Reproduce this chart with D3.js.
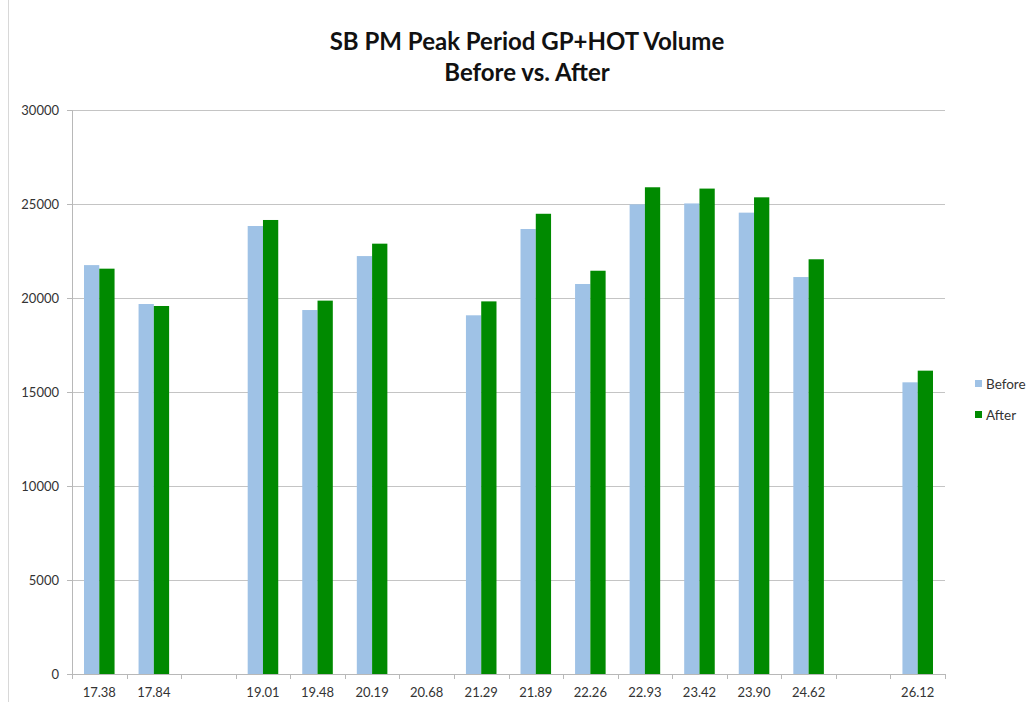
<!DOCTYPE html>
<html>
<head>
<meta charset="utf-8">
<script src="https://cdn.jsdelivr.net/npm/d3@7"></script>
<style>
  body { margin: 0; background: #fff; }
  text { font-family: Lato, "Open Sans", sans-serif; }
</style>
</head>
<body>
<div id="chart"></div>
<script>
(function () {

// slots along the x axis (empty string = unlabeled slot)
var categories = ["17.38", "17.84", "", "19.01", "19.48", "20.19", "20.68", "21.29",
                  "21.89", "22.26", "22.93", "23.42", "23.90", "24.62", " ", "26.12"];
var before = [21750, 19680, null, 23830, 19360, 22230, null, 19080,
              23670, 20745, 24980, 25030, 24540, 21115, null, 15515];
var after  = [21560, 19575, null, 24150, 19860, 22890, null, 19820,
              24480, 21450, 25890, 25820, 25355, 22060, null, 16135];
var seriesNames = ["Before", "After"];
var yTicks = [0, 5000, 10000, 15000, 20000, 25000, 30000];

var colors = {Before: "#9fc2e6", After: "#008a00"};

var margin = {top: 110, right: 86, bottom: 28, left: 72},
    width = 1031 - margin.left - margin.right,
    height = 702 - margin.top - margin.bottom;

var svg = d3.select("#chart").append("svg")
    .attr("width", 1031)
    .attr("height", 702);

// faint page border at the left
svg.append("line")
    .attr("x1", 8.5).attr("x2", 8.5)
    .attr("y1", 0).attr("y2", 702)
    .attr("stroke", "#d8d8d8");

var title = svg.append("text")
    .attr("x", 527)
    .attr("y", 50)
    .attr("text-anchor", "middle")
    .style("font-size", "24px")
    .style("font-weight", "bold")
    .style("fill", "#111");
title.append("tspan").attr("x", 527).text("SB PM Peak Period GP+HOT Volume");
title.append("tspan").attr("x", 527).attr("dy", 31).text("Before vs. After");

var chart = svg.append("g")
    .attr("transform", "translate(" + margin.left + "," + margin.top + ")");

var x = d3.scaleBand()
    .domain(categories)
    .range([0, width])
    .paddingInner(0)
    .paddingOuter(0);

var x1 = d3.scaleBand()
    .domain(seriesNames)
    .range([x.bandwidth() * 0.22, x.bandwidth() * 0.78]);

var y = d3.scaleLinear()
    .domain([0, 30000])
    .range([height, 0]);

// gridlines
chart.append("g")
    .selectAll("line")
    .data(yTicks.slice(1))
    .enter()
    .append("line")
    .attr("x1", 0)
    .attr("x2", width)
    .attr("y1", function (d) { return Math.round(y(d)) + 0.5; })
    .attr("y2", function (d) { return Math.round(y(d)) + 0.5; })
    .attr("stroke", "#c4c4c4")
    .attr("stroke-width", 1);

// y axis
var yAxis = d3.axisLeft(y)
    .tickValues(yTicks)
    .tickFormat(d3.format("d"))
    .tickSize(5)
    .tickPadding(8);

var gy = chart.append("g").call(yAxis);
gy.select(".domain").attr("stroke", "#b8b8b8");
gy.selectAll(".tick line").attr("stroke", "#b8b8b8");
gy.selectAll("text")
    .style("font-size", "13px")
    .style("fill", "#333")
    .style("font-family", "Lato, 'Open Sans', sans-serif");

// bars
var rows = categories.map(function (c, i) {
    return {cat: c, Before: before[i], After: after[i]};
});

var groups = chart.append("g")
    .selectAll("g")
    .data(rows)
    .enter()
    .append("g")
    .attr("transform", function (d) { return "translate(" + x(d.cat) + ",0)"; });

groups.selectAll("rect")
    .data(function (d) {
        return seriesNames
            .filter(function (s) { return d[s] != null; })
            .map(function (s) { return {key: s, value: d[s]}; });
    })
    .enter()
    .append("rect")
    .attr("x", function (d) { return x1(d.key); })
    .attr("width", x1.bandwidth())
    .attr("y", function (d) { return y(d.value); })
    .attr("height", function (d) { return height - y(d.value); })
    .attr("fill", function (d) { return colors[d.key]; });

// x axis: ticks at slot boundaries
var gx = chart.append("g")
    .attr("transform", "translate(0," + height + ")");

gx.append("line")
    .attr("x1", 0).attr("x2", width)
    .attr("y1", 0.5).attr("y2", 0.5)
    .attr("stroke", "#b8b8b8");

gx.selectAll(".bound")
    .data(d3.range(categories.length + 1))
    .enter()
    .append("line")
    .attr("class", "bound")
    .attr("x1", function (i) { return Math.round(i * x.step()) + 0.5; })
    .attr("x2", function (i) { return Math.round(i * x.step()) + 0.5; })
    .attr("y1", 0)
    .attr("y2", 5)
    .attr("stroke", "#b8b8b8");

gx.selectAll(".lab")
    .data(categories)
    .enter()
    .append("text")
    .attr("class", "lab")
    .attr("x", function (d) { return x(d) + x.bandwidth() / 2; })
    .attr("y", 23)
    .attr("text-anchor", "middle")
    .style("font-size", "13px")
    .style("fill", "#333")
    .text(function (d) { return d.trim(); });

// legend
var legend = svg.append("g")
    .attr("transform", "translate(975,380)");

var li = legend.selectAll("g")
    .data(seriesNames)
    .enter()
    .append("g")
    .attr("transform", function (d, i) { return "translate(0," + i * 31 + ")"; });

li.append("rect")
    .attr("width", 7)
    .attr("height", 7)
    .attr("fill", function (d) { return colors[d]; });

li.append("text")
    .attr("x", 11)
    .attr("y", 9)
    .style("font-size", "13.5px")
    .style("fill", "#333")
    .text(function (d) { return d; });

}).call(this);
</script>
</body>
</html>
